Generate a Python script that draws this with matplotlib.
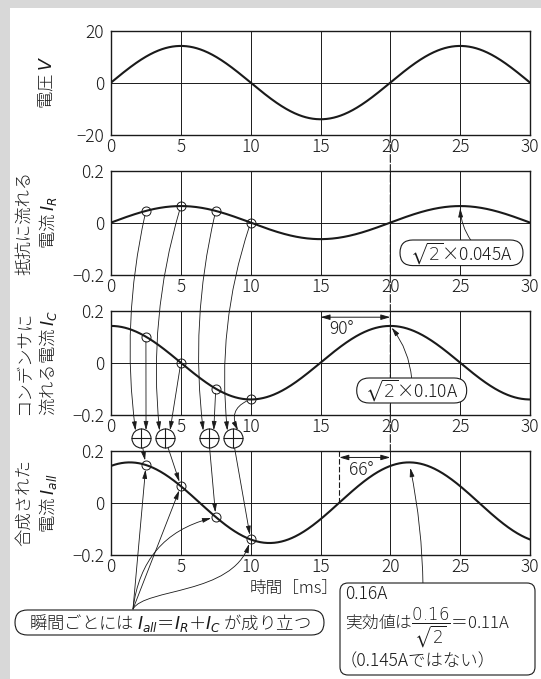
import numpy as np
import matplotlib
matplotlib.use('Agg')
import matplotlib.pyplot as plt
import matplotlib.transforms as mtransforms
from matplotlib.patches import Rectangle, FancyBboxPatch, FancyArrowPatch, ConnectionPatch
from matplotlib.path import Path

plt.rcParams['font.family'] = ['Noto Sans CJK JP', 'DejaVu Sans']
plt.rcParams['font.weight'] = 'light'
plt.rcParams['mathtext.fontset'] = 'dejavusans'

# ---------------- data ----------------
period_ms = 20.0          # 50 Hz
v_peak = 14.1             # voltage amplitude [V]
ir_peak = 0.0636          # resistor current amplitude [A] (√2×0.045)
ic_peak = 0.1414          # capacitor current amplitude [A] (√2×0.10)
t_max = 30.0
sample_times = [2.5, 5.0, 7.5, 10.0]
x_ticks = [0, 5, 10, 15, 20, 25, 30]
v_ticks = [-20, 0, 20]
v_ticklabels = ['−20', '0', '20']
i_ticks = [-0.2, 0, 0.2]
i_ticklabels = ['−0.2', '0', '0.2']
ylabels = ['電圧 $V$', '抵抗に流れる\n電流 $I_R$',
           'コンデンサに\n流れる電流 $I_C$', '合成された\n電流 $I_{all}$']
xlabel = '時間［ms］'
phase_rc = '90°'
phase_all = '66°'
label_ir = r'$\sqrt{2}$×0.045A'
label_ic = r'$\sqrt{2}$×0.10A'
label_sum = '瞬間ごとには $I_{all}$＝$I_R$＋$I_C$ が成り立つ'
box_lines = ['0.16A', '実効値は$\\dfrac{0.16}{\\sqrt{2}}$＝0.11A', '（0.145Aではない）']

# ---------------- curves ----------------
omega = 2 * np.pi / period_ms
t = np.linspace(0, t_max, 601)
def f_v(x): return v_peak * np.sin(omega * np.asarray(x))
def f_ir(x): return ir_peak * np.sin(omega * np.asarray(x))
def f_ic(x): return ic_peak * np.cos(omega * np.asarray(x))
def f_all(x): return f_ir(x) + f_ic(x)
all_peak = np.hypot(ir_peak, ic_peak)
t_shift = np.arctan2(ir_peak, ic_peak) / omega
t_all_peak = t_shift + period_ms
t_all_zero = t_shift + 0.75 * period_ms
st = np.array(sample_times)

# ---------------- figure ----------------
W, H = 541, 679
fig = plt.figure(figsize=(W / 100, H / 100), dpi=100)
fig.patch.set_facecolor('#d8d8d8')
TI = mtransforms.Affine2D().scale(1 / W, -1 / H).translate(0, 1) + fig.transFigure
fig.add_artist(Rectangle((10, 8), W - 10, H - 8, transform=TI, fc='white', ec='none', zorder=-5))

INK = '#1a1a1a'
AX_L, AX_R, AX_H = 111, 530, 104
tops = [30.6, 170.6, 310.7, 450.7]
axes = []
for k, top in enumerate(tops):
    ax = fig.add_axes([AX_L / W, 1 - (top + AX_H) / H, (AX_R - AX_L) / W, AX_H / H])
    ax.set_facecolor('none')
    ax.set_xlim(0, t_max)
    ax.set_xticks(x_ticks)
    ax.set_xticklabels([str(x) for x in x_ticks])
    if k == 0:
        ax.set_ylim(-20, 20)
        ax.set_yticks(v_ticks)
        ax.set_yticklabels(v_ticklabels)
    else:
        ax.set_ylim(-0.2, 0.2)
        ax.set_yticks(i_ticks)
        ax.set_yticklabels(i_ticklabels)
    ax.grid(True, color=INK, lw=0.7)
    ax.set_axisbelow(True)
    ax.tick_params(length=0, labelsize=12.5, colors=INK)
    ax.tick_params(axis='x', pad=2.5)
    ax.tick_params(axis='y', pad=5)
    for s in ax.spines.values():
        s.set_linewidth(1.0)
        s.set_color(INK)
    axes.append(ax)
ax1, ax2, ax3, ax4 = axes

ax1.plot(t, f_v(t), color=INK, lw=1.5)
ax2.plot(t, f_ir(t), color=INK, lw=1.5)
ax3.plot(t, f_ic(t), color=INK, lw=1.5)
ax4.plot(t, f_all(t), color=INK, lw=1.5)
for ax, f in [(ax2, f_ir), (ax3, f_ic), (ax4, f_all)]:
    ax.plot(st, f(st), ls='none', marker='o', ms=6.5, mfc='none', mec=INK, mew=0.7,
            clip_on=False, zorder=5)

# y labels and x label
lab_pos = [(46, 82.6), (37, 222.6), (37, 362.7), (37, 502.7)]
for (x, y), s in zip(lab_pos, ylabels):
    fig.text(x, y, s, transform=TI, rotation=90, ha='center', va='center',
             multialignment='center', fontsize=12.5, linespacing=1.2, color=INK)
fig.text(294.5, 588, xlabel, transform=TI, ha='center', va='center', fontsize=12, color=INK)

# dashed vertical at 20 ms across panels
cp = ConnectionPatch(xyA=(20, -20), coordsA=ax1.transData, xyB=(20, 0.2), coordsB=ax4.transData,
                     ls=(0, (7, 2)), lw=0.8, color=INK, zorder=3)
fig.add_artist(cp)
ax4.plot([t_all_zero, t_all_zero], [0, 0.2], ls=(0, (5, 2)), lw=0.8, color=INK)

DA = dict(arrowstyle='<|-|>,head_length=0.7,head_width=0.2', mutation_scale=8, lw=0.7,
          color=INK, shrinkA=0, shrinkB=0)
ax3.annotate('', xy=(15, 0.175), xytext=(20, 0.175), arrowprops=DA)
ax3.text(15.6, 0.128, phase_rc, fontsize=12.5, ha='left', va='center', color=INK)
ax4.annotate('', xy=(t_all_zero, 0.174), xytext=(20, 0.174), arrowprops=DA)
ax4.text(17.05, 0.127, phase_all, fontsize=12.5, ha='left', va='center', color=INK)

# overlay for connectors
ov = fig.add_axes([0, 0, 1, 1], zorder=10)
ov.set_axis_off()
ov.patch.set_visible(False)

AP = dict(arrowstyle='-|>,head_length=0.75,head_width=0.2', mutation_scale=7, lw=0.6, color=INK)
def conn(xy, xycoords, xytext, textcoords, rad=0.0, sA=0.0, sB=0.0):
    props = dict(AP, connectionstyle=f'arc3,rad={rad}', shrinkA=sA, shrinkB=sB)
    ov.annotate('', xy=xy, xycoords=xycoords, xytext=xytext, textcoords=textcoords,
                arrowprops=props, annotation_clip=False)

def off(tr, dx, dy):
    return mtransforms.offset_copy(tr, fig=fig, x=dx, y=-dy, units='dots')

plus_x = [2.15, 3.87, 7.0, 8.73]
plus_y = -0.2915
ir_rads = [0.09, 0.1, 0.09, 0.11]
ic_rads = [0.0, 0.0, 0.0, 0.55]
for k in range(4):
    conn((plus_x[k], plus_y), off(ax3.transData, -5.5, -7.8),
         (st[k], float(f_ir(st[k]))), ax2.transData, rad=ir_rads[k], sA=3.3)
    conn((plus_x[k], plus_y), off(ax3.transData, 5.0, -8.2),
         (st[k], float(f_ic(st[k]))), ax3.transData, rad=ic_rads[k], sA=3.3)
    conn((st[k], float(f_all(st[k]))), ax4.transData,
         (plus_x[k], plus_y), ax3.transData, sA=6.9, sB=3.3)

ov.plot(plus_x, [plus_y] * 4, transform=ax3.transData, ls='none', marker='o', ms=13.7,
        mfc='white', mec=INK, mew=0.8, clip_on=False, zorder=6)
ov.plot(plus_x, [plus_y] * 4, transform=ax3.transData, ls='none', marker='+', ms=13.7,
        mec=INK, mew=0.8, clip_on=False, zorder=7)

# connectors from the bottom pill to the combined-current markers
junction = (133, 609)
pill_rads = [0.0, 0.0, -0.35]
for k in range(3):
    conn((st[k], float(f_all(st[k]))), ax4.transData, junction, TI, rad=pill_rads[k], sB=3.3)
end_img = TI.inverted().transform(ax4.transData.transform((st[3], float(f_all(st[3])))))
c1 = np.array([145.0, 588.0])
c2 = np.array([232.0, 595.0])
d = end_img - c2
end_img = end_img - d / np.hypot(*d) * 4.6
s_path = Path([junction, tuple(c1), tuple(c2), tuple(end_img)],
              [Path.MOVETO, Path.CURVE4, Path.CURVE4, Path.CURVE4])
fig.add_artist(FancyArrowPatch(path=s_path, transform=TI, arrowstyle=AP['arrowstyle'],
                               mutation_scale=7, lw=0.6, color=INK, zorder=12))

# value callouts
conn((25, ir_peak), ax2.transData, (471, 240.5), TI, rad=-0.15, sB=1.5)
conn((20, ic_peak), ax3.transData, (411.7, 378.5), TI, rad=0.15, sB=1.5)
conn((t_all_peak, all_peak), ax4.transData, (423, 586), TI, rad=0.05, sB=4)

def rbox(x0, y0, x1, y1, r):
    fig.add_artist(FancyBboxPatch((x0, y0), x1 - x0, y1 - y0,
                                  boxstyle=f'round,pad=0,rounding_size={r}', transform=TI,
                                  fc='white', ec=INK, lw=0.8, zorder=15))

rbox(400, 240, 523, 265.6, 12.8)
fig.text(461.5, 253, label_ir, transform=TI, ha='center', va='center', fontsize=12.5, color=INK, zorder=16)
rbox(356.7, 378, 466.7, 403, 12.5)
fig.text(411.7, 390.5, label_ic, transform=TI, ha='center', va='center', fontsize=12.5, color=INK, zorder=16)
rbox(15, 610, 324, 635, 12.5)
fig.text(169.5, 622.5, label_sum, transform=TI, ha='center', va='center', fontsize=12.5, color=INK, zorder=16)
rbox(340, 583, 535, 675, 8)
fig.text(345, 594, box_lines[0], transform=TI, ha='left', va='center', fontsize=12.5, color=INK, zorder=16)
fig.text(345, 628, box_lines[1], transform=TI, ha='left', va='center', fontsize=12, color=INK, zorder=16)
fig.text(340, 661, box_lines[2], transform=TI, ha='left', va='center', fontsize=12.5, color=INK, zorder=16)

fig.savefig('out.png', dpi=100)
